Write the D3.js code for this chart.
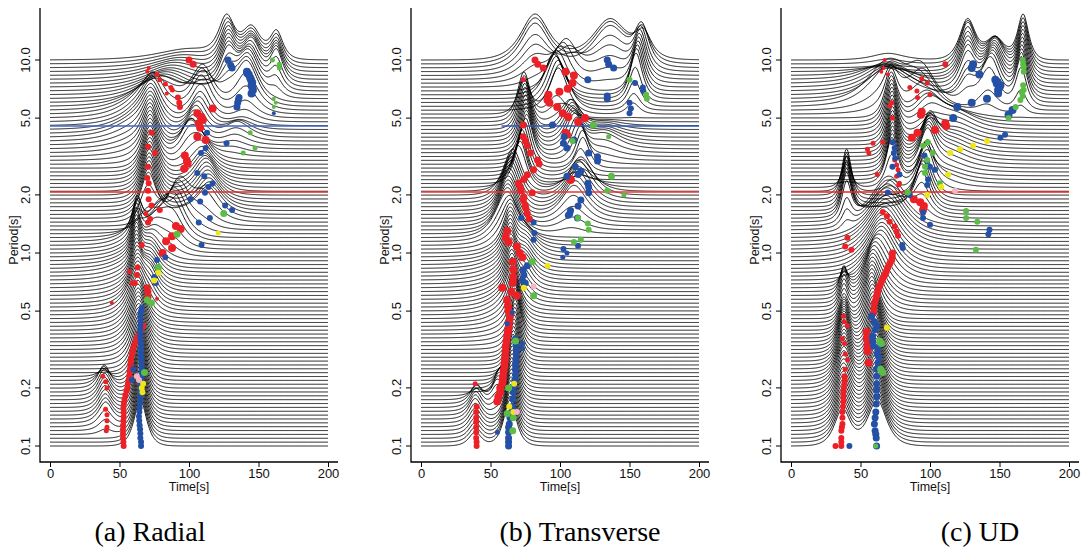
<!DOCTYPE html>
<html>
<head>
<meta charset="utf-8">
<script src="https://cdn.jsdelivr.net/npm/d3@7"></script>
<style>
  body { margin: 0; background: #fff; }
  svg text { font-family: "Liberation Sans", Arial, sans-serif; fill: #111; }
  svg text.caption { font-family: "Liberation Serif", "Times New Roman", serif; fill: #000; }
</style>
</head>
<body>
<svg id="chart" width="1083" height="552"></svg>
<script>
// Period bands: 101 traces, log spaced 0.1 .. 10 s
const periods = d3.range(101).map(i => +(0.1 * Math.pow(10, i * 0.02)).toPrecision(6))
const periodTicks = [0.1, 0.2, 0.5, 1, 2, 5, 10]
const periodTickLabels = ['0.1', '0.2', '0.5', '1.0', '2.0', '5.0', '10.0']
const timeTicks = [0, 50, 100, 150, 200]
const captions = ['(a) Radial', '(b) Transverse', '(c) UD']

const colors = { red: '#ec2127', blue: '#2450a6', green: '#5bbd46', yellow: '#eee619', pink: '#f5b5c5' }

// Envelope ridges: each control point is [period, time of peak, relative amplitude, width(s)]
const radialRidges = [
  [[0.1, 65, 1, 4], [0.2, 65, 1, 4], [0.3, 64, 1, 5], [0.5, 63, 1, 5], [0.7, 62, 1, 3], [1.0, 62, 1, 2.5], [1.2, 63, 0.6, 3], [1.35, 64, 0, 3]],
  [[0.11, 40, 0, 4], [0.13, 40, 0.45, 4.5], [0.2, 39, 0.5, 4], [0.24, 38, 0, 4]],
  [[0.25, 62, 0, 10], [0.5, 60, 0.35, 10], [0.8, 58, 0.4, 12], [1.1, 60, 0.3, 10], [1.3, 60, 0, 10]],
  [[0.45, 72, 0, 5], [0.6, 72, 0.7, 5], [0.9, 73, 0.7, 6], [1.2, 78, 0.5, 7], [1.4, 80, 0, 7]],
  [[0.9, 85, 0, 7], [1.1, 88, 0.8, 7], [1.35, 92, 0.8, 7], [1.6, 95, 0, 7]],
  [[1.3, 70, 0, 5], [1.6, 71, 0.8, 5], [2.5, 72, 1, 5], [3.5, 72, 1, 5], [4.5, 73, 0.8, 6], [5.5, 75, 0, 6]],
  [[1.2, 105, 0, 8], [1.6, 115, 0.5, 8], [2.2, 112, 0.6, 7], [3, 108, 0.5, 7], [3.5, 108, 0, 7]],
  [[2.6, 100, 0, 6], [3.2, 100, 0.7, 6], [4.5, 108, 0.8, 6], [5.5, 110, 0.6, 7], [6.5, 112, 0, 7]],
  [[2.8, 60, 0, 14], [4, 60, 0.4, 14], [6, 80, 0.5, 15], [8, 90, 0.4, 17], [10, 100, 0.3, 20]],
  [[5.5, 128, 0, 6], [7, 128, 0.8, 5], [9, 128, 1, 5], [10, 127, 1, 5]],
  [[4.5, 140, 0, 7], [6, 142, 0.8, 7], [8, 145, 0.9, 6], [10, 145, 0.8, 6]],
  [[6, 162, 0, 4], [7.5, 163, 0.7, 4], [10, 163, 0.7, 4]],
  [[3, 130, 0, 8], [4, 135, 0.4, 8], [5, 140, 0, 8]]
]

const transverseRidges = [
  [[0.1, 64, 1, 4], [0.2, 66, 1, 3.5], [0.35, 68, 1, 3.5], [0.5, 66, 1, 4], [0.8, 64, 1, 3.5], [1.0, 64, 0.9, 4], [1.2, 65, 0, 4]],
  [[0.1, 39, 0.3, 4], [0.14, 39, 0.45, 4], [0.17, 40, 0.4, 4], [0.19, 40, 0, 4]],
  [[0.14, 54, 0, 3], [0.17, 54, 0.35, 3], [0.2, 56, 0.3, 3], [0.24, 58, 0, 3]],
  [[0.3, 60, 0, 10], [0.5, 60, 0.35, 10], [0.8, 60, 0.4, 12], [1.1, 62, 0.3, 10], [1.3, 62, 0, 10]],
  [[0.5, 74, 0, 5], [0.7, 75, 0.6, 5], [1.0, 76, 0.5, 6], [1.2, 76, 0, 6]],
  [[1.0, 62, 0, 8], [1.2, 62, 0.8, 7], [1.5, 63, 0.7, 6], [2, 66, 0.6, 6], [2.3, 68, 0, 6]],
  [[1.2, 108, 0, 8], [1.5, 110, 0.5, 8], [2, 115, 0.5, 8], [2.4, 115, 0, 8]],
  [[2.0, 72, 0, 4], [2.4, 72, 0.9, 4], [3, 76, 1, 4], [4, 75, 1, 4], [5, 74, 0.9, 4], [5.5, 74, 0, 4]],
  [[2.3, 110, 0, 5], [2.8, 117, 0.7, 4], [3.5, 110, 0.7, 5], [4.5, 108, 0.6, 6], [5, 105, 0, 6]],
  [[2.8, 130, 0, 10], [3.5, 132, 0.35, 10], [5, 135, 0, 10]],
  [[4.5, 95, 0, 6], [5.5, 100, 0.8, 6], [6.5, 95, 0.7, 6], [8, 105, 0.7, 7], [9, 110, 0, 7]],
  [[7, 82, 0, 9], [8.5, 82, 0.7, 9], [10, 82, 1, 9]],
  [[7, 136, 0, 11], [8.5, 136, 0.7, 11], [10, 136, 0.9, 11]],
  [[5, 152, 0, 4], [6.5, 155, 0.8, 4], [8.5, 158, 0.8, 4], [10, 160, 0.5, 5]]
]

const udRidges = [
  [[0.1, 37, 0.8, 5], [0.2, 38, 0.9, 5], [0.3, 38, 0.8, 4], [0.45, 38, 0.5, 3], [0.6, 38, 0.9, 2.5], [0.72, 38, 0, 2.5]],
  [[0.1, 62, 1, 6], [0.2, 61, 1, 5], [0.3, 60, 1, 5], [0.45, 58, 1, 5], [0.6, 58, 0.8, 5], [0.75, 60, 0, 5]],
  [[0.45, 60, 0, 8], [0.6, 62, 0.8, 8], [0.8, 65, 1, 9], [1.1, 68, 1, 11], [1.4, 70, 0.9, 11], [1.7, 72, 0, 11]],
  [[1.2, 40, 0, 3], [1.5, 40, 0.7, 3], [2.0, 40, 0.8, 3], [2.3, 40, 0, 3]],
  [[1.4, 95, 0, 5], [1.7, 94, 0.7, 5], [2.1, 97, 0.7, 5], [2.4, 97, 0, 5]],
  [[2.0, 72, 0, 4], [2.5, 73, 0.9, 3.5], [3.5, 73, 1, 3.5], [5, 72, 1, 4], [5.8, 72, 0, 4]],
  [[2.2, 97, 0, 5], [2.6, 98, 0.8, 5], [3.5, 100, 0.7, 5], [4.2, 100, 0, 5]],
  [[2, 110, 0, 11], [3, 115, 0.3, 12], [4.5, 120, 0.3, 12], [5.5, 120, 0, 12]],
  [[3.8, 100, 0, 9], [4.5, 100, 0.6, 9], [5.5, 95, 0.6, 9], [6.5, 90, 0, 9]],
  [[5, 70, 0, 13], [6, 70, 0.6, 13], [7.5, 70, 0.5, 14], [9, 60, 0, 14]],
  [[5.5, 127, 0, 5], [7, 127, 0.8, 5], [9, 127, 1, 5], [10, 127, 0.9, 5]],
  [[5, 140, 0, 6], [6.5, 145, 0.9, 6], [8.5, 147, 0.8, 6], [10, 147, 0.5, 6]],
  [[5, 165, 0, 3.5], [6.5, 166, 0.9, 3.5], [8.5, 167, 1, 3.5], [10, 167, 1, 3.5]],
  [[8.5, 70, 0, 10], [10, 70, 0.15, 10]]
]

// Picks: [colour, radius, [[time, period], ...]]
const radialDots = [
  ['red', 2, [[70, 8.7], [71, 9.1], [84, 6.7], [44.5, 0.55], [77, 0.58]]],
  ['red', 2.5, [[77, 8.4], [79, 7.9], [83, 7.5], [87, 7.2], [88, 7.0], [69, 1.6], [57, 0.8], [59, 0.7], [38, 0.23], [40, 0.215], [41, 0.2], [40, 0.155], [41, 0.145], [41, 0.135], [41, 0.125], [40.5, 0.12]]],
  ['red', 3, [[92, 6.4], [93, 6.0], [93.5, 5.7], [73, 4.2], [70.5, 3.55], [75.5, 3.3], [70.5, 2.8], [70, 2.45], [71, 2.3], [70.5, 2.1], [71, 1.9], [73, 1.76], [72, 1.5], [70.5, 1.44], [79, 1.67], [66, 1.1], [63, 0.84], [62.6, 0.77], [61, 0.7],
    [53, 0.1], [52.8, 0.105], [52.5, 0.11], [52.5, 0.116], [52.5, 0.122], [52.6, 0.128], [52.8, 0.135], [53, 0.142], [53, 0.15], [52.8, 0.158], [53.2, 0.166], [53.6, 0.174], [54.2, 0.183], [55, 0.192], [55.6, 0.2], [56, 0.21], [56.5, 0.22], [57, 0.23], [57.3, 0.24], [57.6, 0.25], [57.8, 0.26], [58, 0.27], [58.3, 0.28], [58.6, 0.29], [59, 0.3], [59.4, 0.31], [60, 0.325], [61, 0.34], [62, 0.355], [63, 0.37], [64.5, 0.385], [66, 0.4], [67, 0.42]]],
  ['red', 3.5, [[100, 10], [103, 9.5], [70, 0.66], [70.5, 0.63], [70.5, 0.59]]],
  ['red', 4, [[117, 5.6], [106, 5.3], [109, 5.07], [110, 4.89], [107, 4.7], [108, 4.45], [106, 4.0], [112, 3.85], [97, 3.2], [98.5, 3.0], [99, 2.9], [96.5, 2.73], [90.6, 1.38], [94, 1.33], [83.5, 1.15], [87.8, 1.22], [81, 1.0], [87.8, 1.06]]],
  ['blue', 2, [[161, 5.3]]],
  ['blue', 3, [[59, 0.22], [60, 0.25], [77, 0.92], [75, 0.75], [76, 0.7], [83, 0.95], [113, 4.2], [112, 3.5], [108.6, 3.3], [127, 3.7], [106, 2.6], [111, 2.5], [117, 2.3], [114, 2.2], [111.5, 2.05], [101, 1.9], [108, 1.85], [126, 1.76], [131, 1.67], [115, 1.52], [107, 1.44], [109, 1.1],
    [65.5, 0.1], [65.5, 0.105], [65, 0.11], [65, 0.116], [64.8, 0.122], [64.5, 0.128], [64.2, 0.135], [64, 0.142], [64.3, 0.15], [64.5, 0.158], [64.8, 0.166], [65, 0.174], [65, 0.183], [65.2, 0.192], [65, 0.2], [65.2, 0.21], [65.5, 0.22], [65.8, 0.23], [66, 0.24], [66, 0.25], [66, 0.26], [65.8, 0.27], [65.5, 0.28], [65.5, 0.29], [65.5, 0.3], [65.5, 0.315], [65.5, 0.33], [65.2, 0.345], [65, 0.36], [65, 0.375], [65, 0.39], [65, 0.405], [65, 0.42], [65, 0.44], [65, 0.46], [65, 0.48], [65.5, 0.5], [66, 0.52]]],
  ['blue', 3.5, [[128, 10], [130, 9.4], [131, 9.1], [136, 6.4], [135, 6.0], [134.5, 5.7], [135.5, 6.2]]],
  ['blue', 4, [[141.7, 8.7], [143, 8.4], [144.6, 7.9], [145, 7.4], [146, 7.0], [145, 6.7], [142, 8.55], [144, 8.1], [145.5, 7.65], [145.5, 7.2]]],
  ['green', 2, [[161, 6.3], [162.5, 6.0], [161, 5.7]]],
  ['green', 2.5, [[160, 10], [165, 9.5], [165, 9.1], [144, 4.2], [147.5, 3.5], [139, 3.3]]],
  ['green', 3.5, [[125, 1.6], [91.4, 1.25], [78, 0.84], [70, 0.57], [73, 0.55], [68, 0.24]]],
  ['yellow', 2.5, [[121, 1.27]]],
  ['yellow', 3, [[78, 0.79], [75, 0.72], [66, 0.2], [67, 0.21], [66.5, 0.19]]],
  ['pink', 3, [[62.5, 0.23], [64, 0.22]]]
]

const transverseDots = [
  ['red', 2.5, [[73.6, 7.9], [39, 0.21]]],
  ['red', 3, [[40, 0.16], [39.7, 0.15], [39.7, 0.14], [39.7, 0.133], [39.7, 0.125], [39.7, 0.118], [39.7, 0.11], [40, 0.105], [40, 0.1]]],
  ['red', 3.5, [[82, 10], [84, 9.5], [88, 9.1], [73.6, 4.6], [73.6, 4.0], [75, 3.8], [76.5, 3.6], [78.7, 3.3], [83.8, 3.03], [85, 2.9], [81, 2.7], [76.5, 2.54], [70, 2.3], [71.5, 2.2], [73.6, 1.88], [75, 1.77], [76.5, 1.6], [80, 2.05], [74, 1.95], [75.5, 1.7], [78, 1.5], [74, 2.4], [72, 2.1]]],
  ['red', 4, [[104, 8.7], [110, 8.3], [109, 7.6], [105.6, 7.1], [99.6, 6.85], [91.7, 6.6], [91, 6.2], [92.4, 6.0], [98, 5.7], [102, 5.3], [106, 5.07], [113, 4.77], [118, 5.0], [104, 4.2], [105, 4.1], [62, 1.3], [61, 1.2], [63, 1.14], [69, 1.08], [71, 1.0], [73, 0.95], [66, 0.9], [66.4, 0.82], [66.4, 0.75], [66, 0.7], [65, 0.63], [58.5, 0.66], [69, 0.6],
    [62, 0.57], [62.5, 0.53], [63, 0.5], [64, 0.47], [63.5, 0.44], [63, 0.41], [62.5, 0.39], [62, 0.37], [61.5, 0.35], [61, 0.33], [60.8, 0.31], [60.6, 0.29], [60.3, 0.275], [60, 0.26], [59.5, 0.245], [59, 0.23], [58.8, 0.22], [58.5, 0.21], [57, 0.2], [57, 0.19], [55.6, 0.18], [54.9, 0.17]]],
  ['red', 4.5, [[107.6, 2.4]]],
  ['blue', 2.5, [[73, 0.34], [73, 0.32], [62, 0.43], [65.7, 0.49], [55, 0.118], [102, 0.95], [105, 1.0]]],
  ['blue', 3, [[150, 6.0], [151, 5.6], [150, 5.3], [154, 7.6], [159.6, 7.2], [160, 6.9], [72, 1.52], [81, 1.44], [81.6, 1.27], [81, 1.17], [102.5, 1.05], [113, 1.09]]],
  ['blue', 3.5, [[134, 10], [135, 9.5], [138.6, 9.1], [120, 7.9], [134, 6.5], [134, 6.3], [94.6, 4.6], [103, 4.0], [102.5, 3.7], [105, 3.5], [110, 3.85], [120.6, 3.3], [127, 3.15], [127, 3.0], [111, 2.8], [115, 2.65], [113, 2.55], [105, 2.5], [120, 2.3], [120.6, 2.2], [120.6, 2.05], [115, 1.88], [113, 1.75], [107.6, 1.66], [107, 1.6], [112.6, 1.52], [106, 1.57], [73.6, 0.82], [73, 0.72], [75, 0.7], [76.5, 0.86], [74, 0.77],
    [68, 0.36], [68.3, 0.34], [68.6, 0.32], [68.5, 0.3], [68.2, 0.28], [68, 0.265], [68, 0.25], [68, 0.235], [67.5, 0.22], [67, 0.205], [66.4, 0.19], [66, 0.175], [65.7, 0.16], [65, 0.15], [64, 0.14], [63.5, 0.13], [63, 0.125], [63, 0.118], [63, 0.11], [63, 0.105], [63, 0.1]]],
  ['green', 2.5, [[146, 2.0], [135, 4.0]]],
  ['green', 3, [[150, 7.9], [162, 6.6], [162.5, 6.3], [109, 3.8], [113, 1.52], [120, 1.42], [120.6, 1.32], [115, 1.17], [110, 1.14], [134, 2.1]]],
  ['green', 3.5, [[124, 4.6], [137, 2.5], [80, 0.9], [81, 0.6], [68, 0.35], [63, 0.2], [66.4, 0.14], [66, 0.12], [62, 0.147]]],
  ['yellow', 3, [[91, 0.86], [74, 0.66], [67, 0.21], [63.5, 0.16], [66.4, 0.15]]],
  ['pink', 3, [[81, 0.67], [69, 0.15]]]
]

const udDots = [
  ['red', 2, [[67.4, 10], [66.7, 9.1], [65, 8.7], [69.6, 8.4]]],
  ['red', 2.5, [[94, 8.0], [98, 7.6], [85.5, 7.2], [90.6, 6.9], [100, 6.6], [91, 6.4], [72.5, 6.0], [71, 5.8], [73, 5.0], [66, 3.75], [59, 3.7], [55, 3.45], [56, 3.3], [74.6, 3.03], [76, 2.86], [77, 2.7], [76, 2.5], [78, 2.3], [77.5, 2.25], [62, 2.55], [37.7, 0.47], [38.4, 0.44], [40.6, 0.42], [37, 0.36], [38.4, 0.34], [39, 0.3], [40.6, 0.28], [39, 0.25]]],
  ['red', 3, [[111, 9.5], [40.6, 1.2], [39, 1.08], [43.5, 1.04], [66, 1.63], [69, 1.55], [71, 1.45], [74.6, 1.37], [76, 1.29], [77, 1.23],
    [38.4, 0.23], [38.6, 0.22], [38.4, 0.21], [38, 0.2], [37.7, 0.19], [37.7, 0.18], [37.7, 0.17], [37.4, 0.16], [37, 0.15], [37, 0.14], [37, 0.13], [36.6, 0.125], [36.2, 0.12], [36.2, 0.11], [36.2, 0.105], [36.2, 0.1], [32, 0.1]]],
  ['red', 3.5, [[73, 1.0], [72.8, 0.96], [72.5, 0.92], [71, 0.88], [69.6, 0.84], [68.5, 0.8], [67.4, 0.77], [66, 0.74], [65, 0.71], [64, 0.68], [63, 0.66], [62.3, 0.63], [61.6, 0.6], [61, 0.575], [60, 0.55], [59.7, 0.52], [59.4, 0.49]]],
  ['red', 4, [[94, 5.4], [93.5, 5.2], [111, 4.7], [111.6, 4.55], [103.6, 4.34], [91, 4.2], [87, 3.95], [88.4, 1.9], [93, 1.83], [95.6, 1.75], [95, 1.67], [54.3, 0.39], [55, 0.31], [55.8, 0.27], [55, 0.33], [54.5, 0.36]]],
  ['blue', 3, [[142.8, 1.32], [142, 1.25], [80, 1.1], [80.4, 1.06], [150.7, 3.95], [154, 4.1], [73, 3.75], [74.6, 3.5], [73, 2.8], [96, 3.2], [98, 3.0], [100, 2.8], [103.6, 2.7], [98.6, 2.4], [98, 2.25], [78, 2.55], [69.6, 2.06], [85.5, 2.0], [95, 1.62], [95, 1.52], [100, 1.4], [42, 0.1], [74, 3.3], [75, 3.1]]],
  ['blue', 4, [[131, 9.5], [130, 9.1], [135.5, 8.4], [147, 7.9], [148.6, 7.7], [150.7, 7.4], [149, 7.0], [149, 6.7], [141, 6.3], [130, 6.0], [119.6, 5.7], [116.7, 5.0], [156.5, 5.2], [159.4, 5.5], [148, 7.55], [150, 7.2]]],
  ['blue', 3.5, [[58, 0.47], [60, 0.44], [61.6, 0.42], [60.5, 0.4], [58.7, 0.37], [58.7, 0.35], [59.5, 0.33], [62.5, 0.32], [62, 0.3], [63, 0.29], [62.5, 0.27], [61.6, 0.25], [61.6, 0.23], [61.6, 0.21], [61.6, 0.195], [61.6, 0.18], [61.3, 0.165], [61, 0.15], [60.5, 0.14], [60, 0.13], [60.5, 0.12], [61, 0.115], [61.3, 0.11], [61.6, 0.1]]],
  ['green', 2.5, [[61, 0.1]]],
  ['green', 3, [[166.7, 10], [167, 9.5], [167.4, 9.2], [167.4, 8.7], [167, 7.4], [167.4, 7.0], [166, 6.8], [166.7, 6.5], [165, 6.2], [161.6, 5.7], [156.5, 5.0], [95, 3.6], [98.5, 3.75], [102, 3.3], [98, 3.03], [96.4, 2.8], [96.4, 2.6], [107, 2.3], [84, 2.06], [126, 1.65], [126, 1.52], [134, 1.45], [133, 1.04]]],
  ['green', 3.5, [[63.8, 0.35], [65, 0.34], [64.5, 0.25], [66, 0.24]]],
  ['yellow', 3, [[131, 3.6], [121.7, 3.45], [114.5, 3.3], [141, 3.8], [113, 2.55], [108, 2.2], [98, 2.0], [69, 0.41]]],
  ['pink', 3, [[118, 2.1]]]
]

// Highlighted reference bands: [period, colour, start time]
const radialRefs = [[4.55, '#3d66c6', 0], [2.07, '#e42a2a', 0]]
const transverseRefs = [[4.55, '#2a58c0', 58], [2.07, '#ee3535', 0]]
const udRefs = [[2.07, '#ee2020', 0]]

const panels = [
  { x0: 40, ridges: radialRidges, dots: radialDots, refs: radialRefs, caption: captions[0], capX: 150 },
  { x0: 411, ridges: transverseRidges, dots: transverseDots, refs: transverseRefs, caption: captions[1], capX: 580 },
  { x0: 781, ridges: udRidges, dots: udDots, refs: udRefs, caption: captions[2], capX: 980 }
]

const ampPx = 46
const svg = d3.select('#chart')

// Interpolate one ridge at a given period (log-period), or null outside its range
function ridgeAt (ridge, p) {
  for (let k = 0; k < ridge.length - 1; k++) {
    const [p0, t0, a0, s0] = ridge[k]
    const [p1, t1, a1, s1] = ridge[k + 1]
    if (p >= p0 - 1e-9 && p <= p1 + 1e-9) {
      const f = Math.log(p / p0) / Math.log(p1 / p0)
      return { t: t0 + f * (t1 - t0), a: a0 + f * (a1 - a0), s: s0 + f * (s1 - s0) }
    }
  }
  return null
}

// Envelope of one band: sum of sech-shaped wave packets, normalised to 1
function envelope (ridges, p) {
  const comps = ridges.map(r => ridgeAt(r, p)).filter(c => c && c.a > 0)
  const pts = d3.range(0, 200.001, 0.5).map(t =>
    [t, d3.sum(comps, c => c.a / Math.cosh((t - c.t) / c.s))])
  const mx = d3.max(pts, d => d[1])
  return pts.map(d => [d[0], mx > 1e-9 ? d[1] / mx : 0])
}

panels.forEach(panel => {
  const x = d3.scaleLinear().domain([0, 200]).range([panel.x0 + 10, panel.x0 + 288])
  const y = d3.scaleLog().domain([0.1, 10]).range([446, 60])
  const g = svg.append('g')

  const line = d3.line().x(d => x(d[0])).y(d => d[1])

  // traces
  g.append('g').selectAll('path')
    .data(periods)
    .join('path')
    .attr('d', p => line(envelope(panel.ridges, p).map(d => [d[0], y(p) - ampPx * d[1]])))
    .attr('fill', 'none')
    .attr('stroke', '#000')
    .attr('stroke-width', 0.9)

  // reference bands
  g.append('g').selectAll('line')
    .data(panel.refs)
    .join('line')
    .attr('x1', d => x(d[2])).attr('x2', x(200))
    .attr('y1', d => y(d[0])).attr('y2', d => y(d[0]))
    .attr('stroke', d => d[1])
    .attr('stroke-width', 1.6)

  // picks
  panel.dots.forEach(([c, r, pts]) => {
    g.append('g').selectAll('circle')
      .data(pts)
      .join('circle')
      .attr('cx', d => x(d[0]))
      .attr('cy', d => y(d[1]))
      .attr('r', r)
      .attr('fill', colors[c])
  })

  // axes, R style (L-shaped box)
  const axisY = 462
  g.append('path')
    .attr('d', `M${panel.x0},8V${axisY}H${panel.x0 + 298}`)
    .attr('fill', 'none').attr('stroke', '#000').attr('stroke-width', 1.3)

  const yAxis = d3.axisLeft(y).tickValues(periodTicks).tickFormat((d, i) => periodTickLabels[i]).tickSize(5)
  const ya = g.append('g').attr('transform', `translate(${panel.x0},0)`).call(yAxis)
  ya.select('.domain').remove()
  ya.selectAll('.tick').attr('transform', null)
  ya.selectAll('.tick line').attr('y1', d => y(d)).attr('y2', d => y(d))
  ya.selectAll('text')
    .attr('x', 0).attr('y', 0).attr('dy', 0)
    .attr('transform', d => `translate(-10,${y(d)}) rotate(-90)`)
    .attr('text-anchor', 'middle')
    .style('font-size', '13px')

  const xAxis = d3.axisBottom(x).tickValues(timeTicks).tickSize(5).tickPadding(2)
  const xa = g.append('g').attr('transform', `translate(0,${axisY})`).call(xAxis)
  xa.select('.domain').remove()
  xa.selectAll('text').style('font-size', '13px')

  g.append('text')
    .attr('x', x(100)).attr('y', 491)
    .attr('text-anchor', 'middle')
    .style('font-size', '12.5px')
    .text('Time[s]')

  g.append('text')
    .attr('transform', `translate(${panel.x0 - 22},240) rotate(-90)`)
    .attr('text-anchor', 'middle')
    .style('font-size', '12.5px')
    .text('Period[s]')

  svg.append('text')
    .attr('class', 'caption')
    .attr('x', panel.capX).attr('y', 541)
    .attr('text-anchor', 'middle')
    .style('font-size', '28px')
    .text(panel.caption)
})
</script>
</body>
</html>
